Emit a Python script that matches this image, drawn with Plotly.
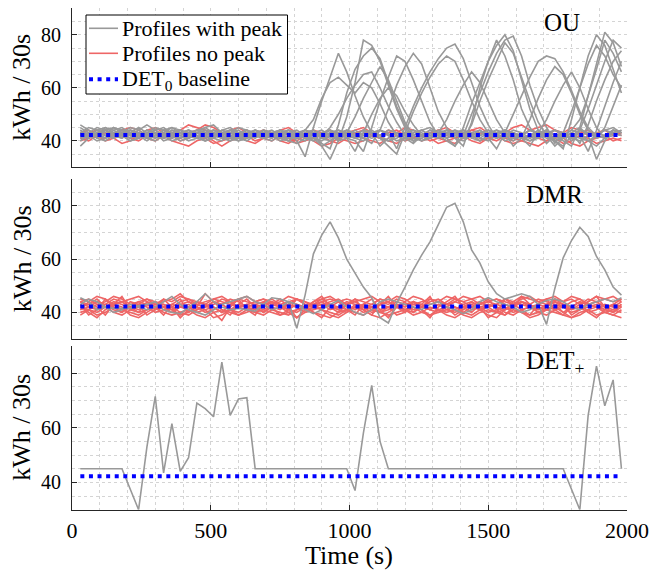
import plotly.graph_objects as go

W, H = 653, 573

# ---------------- data ----------------
time_s = list(range(30, 1981, 30))  # 66 sample times (s)
baseline_det0 = 42.2

# OU panel: profiles with peak (gray)
ou_peak_1 = [44,41,43,42,45,43,41,42,44,43,41, 42,44,43,41,40,42,43,44,42,41,43, 42,41,44,43,40,34,45,55,64,73,66, 57,49,43,38,41,43,42,44,43,41,42, 40,38,45,54,62,70,76,80,74,63,52, 44,39,42,43,41,44,43,42,44,43,42]
ou_peak_2 = [40,42,44,45,43,42,40,41,43,44,42, 43,41,42,44,45,43,42,40,41,43,44, 42,43,41,40,42,44,43,38,33,40,49, 62,78,76,70,61,52,45,40,42,44,43, 41,42,44,43,41,40,42,44,43,41,42, 43,44,42,40,38,45,57,70,81,77,68]
ou_peak_3 = [45,43,42,41,43,44,42,43,41,42,44, 42,40,41,43,44,42,41,43,45,44,42, 41,43,44,42,41,40,43,42,45,50,56, 61,65,66,60,53,47,42,40,41,43,42, 44,43,41,42,44,41,37,43,50,57,64, 70,72,71,66,59,51,45,42,41,43,44]
ou_peak_4 = [38,41,43,44,42,41,43,45,43,42,41, 44,43,42,41,43,44,43,41,42,43,41, 43,42,40,41,43,44,42,39,37,46,58, 67,72,75,71,62,53,46,41,40,42,44, 43,41,38,47,60,70,78,72,63,52,45, 41,42,44,43,42,41,40,42,44,45,43]
ou_peak_5 = [42,44,41,40,42,43,45,44,42,41,43, 41,43,44,42,40,41,44,43,42,44,42, 44,42,41,43,42,44,43,41,42,43,41, 40,36,45,55,64,72,70,63,55,47,42, 41,43,44,42,41,43,42,44,43,42,40, 41,43,40,37,48,60,72,80,76,67,58]
ou_peak_6 = [43,42,44,43,41,42,44,42,40,42,43, 45,44,42,41,42,43,41,40,42,44,43, 42,41,43,44,42,41,40,43,42,41,44, 43,41,39,44,52,61,68,73,69,60,51, 45,41,40,42,43,44,42,41,43,42,44, 43,42,40,41,43,39,46,55,63,70,74]
ou_peak_7 = [41,43,42,45,44,42,41,43,42,44,45, 43,42,40,41,42,44,43,42,41,40,42, 44,43,42,41,42,43,44,42,41,43,42, 41,40,42,44,43,37,45,53,60,66,71, 75,76.5,71,62,53,46,41,42,43,41,42, 44,42,41,43,40,44,52,61,70,78,75]
ou_peak_8 = [44,42,40,41,43,44,42,41,43,45,44, 42,41,43,44,42,41,40,43,44,42,41, 43,44,42,40,39,41,43,42,44,43,41, 42,44,43,41,40,42,43,44,42,41,43, 41,38,42,50,58,66,73,78,79.5,72,61, 52,45,40,38,42,44,43,41,42,44,43]
ou_peak_9 = [43,45,44,42,41,43,42,44,46,44,42, 41,42,44,43,42,41,43,42,40,41,43, 42,41,43,44,43,42,41,40,42,44,43, 41,42,43,44,42,40,41,43,44,42,41, 43,44,41,46,55,63,70,77,73,64,55, 47,42,38,41,43,42,36,44,53,62,70]
ou_peak_10 = [42,41,43,44,42,44,43,41,42,43,40, 41,43,42,44,43,42,41,42,43,44,42, 41,40,42,43,41,43,44,42,43,41,42, 44,42,41,42,44,43,42,40,41,43,42, 44,43,41,42,40,42,44,43,38,41,48, 56,63,68,65,58,50,44,41,45,53,61]
ou_peak_11 = [41,42,43,41,44,45,43,42,41,42,44, 43,42,41,42,40,41,43,44,43,42,43, 42,43,44,42,41,42,43,41,40,42,43, 42,44,43,41,38,35,43,51,58,64,69, 72,70,63,55,48,43,41,42,44,43,41, 42,43,44,42,41,40,42,43,42,44,43]
ou_peak_12 = [46,44,42,41,43,42,44,43,41,40,42, 44,43,42,41,43,44,42,41,43,42,44, 43,42,41,40,42,44,48,56,62,64,61, 58,62,60,54,47,42,40,43,44,42,41, 43,42,41,43,44,42,41,43,42,41,40, 42,44,39,43,51,60,69,76,72,65,60]
ou_peak_13 = [42,43,41,44,43,42,40,41,43,42,44, 45,43,42,41,44,43,42,41,40,42,43, 41,42,44,43,42,41,43,44,42,40,41, 36,43,50,56,60,57,51,46,42,41,43, 44,42,41,43,42,44,43,40,41,42,44, 43,42,41,42,44,43,40,38,41,43,42]
ou_peak_14 = [40,42,43,42,41,43,44,43,42,41,42, 43,44,42,43,41,42,44,45,43,41,42, 44,43,42,41,43,42,40,41,43,44,42, 41,43,44,42,40,41,43,42,44,45,43, 48,55,61,66,62,55,48,43,41,42,44, 43,41,40,42,44,48,57,67,78,73,66]
ou_peak_15 = [43,41,42,44,45,44,42,41,42,43,41, 42,43,44,42,41,43,42,44,43,41,42, 41,43,42,44,43,42,41,38,40,43,44, 42,41,43,44,42,43,41,39,42,44,43, 42,43,44,41,40,42,43,44,42,41,38, 43,44,42,41,43,45,42,33,40,44,43]
ou_peak_16 = [42,43,45,44,42,41,43,42,44,43,42, 40,41,42,43,45,46,43,42,41,42,44, 43,42,41,43,44,42,41,43,44,40,43, 49,56,62,68,63,55,47,42,40,41,43, 42,44,43,41,42,43,44,42,40,42,41, 43,48,55,61,66,60,52,45,41,42,44]

# OU panel: profiles without peak (red)
ou_flat_1 = [43,44,42,41,42,44,43,42,44,45,43, 42,41,43,44,46,45,43,42,41,42,43, 44,43,42,41,40,42,44,43,42,41,42, 43,44,42,41,43,44,42,41,42,43,44, 42,41,43,44,45,43,42,41,40,42,44, 45,46,44,42,41,43,44,42,41,43,42]
ou_flat_2 = [41,40,42,43,41,39,40,42,41,40,42, 40,39,38,40,41,39,40,41,42,40,39, 41,42,40,39,41,42,40,38,39,41,40, 39,40,42,41,40,39,41,42,40,41,39, 40,41,42,40,39,41,40,42,41,40,39, 38,40,41,39,40,42,41,39,40,41,40]
ou_flat_3 = [42,43,44,43,42,44,45,44,42,43,42, 43,44,46,45,44,43,42,44,45,43,42, 43,42,44,45,43,42,41,43,44,42,43, 44,45,43,42,44,43,45,44,42,43,44, 45,43,42,44,43,42,41,43,45,46,44, 43,42,44,43,45,44,42,43,44,42,43]
ou_flat_4 = [40,41,42,40,41,42,41,40,42,43,41, 42,40,41,43,42,40,38,40,41,42,40, 41,40,42,41,39,40,41,42,40,39,41, 42,41,40,39,41,42,40,41,42,40,41, 40,39,41,42,40,41,42,40,39,40,42, 41,40,42,41,39,38,40,41,42,40,41]

# DMR panel: profiles with peak (gray)
dmr_peak_1 = [45.5,44,41,42,41.5,41.5,41.5,42.5,43,44, 41,40,39.5,42,44,47,44,42,41,41.5, 41,40.5,43,45.5,45,44,34,46.5,62,69, 74,68,60,54.5,49.5,45.5,38,36,43.5,49.5, 56,61.5,66.5,73,79.5,81,74,63.5,58.5,51.5, 47,45,46,47,46,43,35.5,49,60.5,67, 72,68.5,61,56,49.5,46.5]
dmr_peak_2 = [43,45,44,42,40,41,43,42,41,42, 44,46,43,41,40,39,41,43,44,45, 46,44,43,41,42,44,43,41,39.5,41, 43,44.5,42,40,39,41,44,45,44,43, 42,41,43,44,42,41,39.5,41,44,45.5, 44,43,42,40,41,43,44.5,45,44,42, 41,43,44,45,44,45.5]

# DMR panel: profiles without peak (red)
dmr_flat_1 = [44,42,41,43,45,44,42,41,43,44,42, 41,43,44,42,40,41,43,45,44,42,41, 43,44,42,41,43,42,44,45,43,42,41, 42,43,41,40,42,44,43,41,42,44,45, 43,42,41,43,44,42,40,41,43,44,42, 41,43,44,42,41,43,45,44,42,41,43]
dmr_flat_2 = [40,41,39,40,42,41,40,39,41,42,40, 39,40,41,39,38,40,41,40,39,41,40, 41,40,39,40,41,42,40,39,38,40,41, 40,39,41,40,39,40,41,42,40,39,41, 40,41,39,38,40,41,40,39,41,40,39, 40,41,40,39,38,40,41,39,40,41,40]
dmr_flat_3 = [45,44,46,45,43,44,45,46,44,43,45, 44,46,45,44,43,45,46,44,45,46,44, 45,43,44,46,45,44,43,45,46,44,45, 44,45,46,44,43,45,44,46,45,43,44, 46,45,44,45,46,44,43,45,44,46,45, 44,45,46,44,45,43,44,46,45,44,45]
dmr_flat_4 = [42,43,41,42,44,43,41,42,43,41,42, 43,42,41,43,42,44,43,41,42,43,42, 41,43,42,44,43,41,42,43,41,42,44, 43,41,42,43,44,42,41,43,42,41,43, 42,44,43,41,42,43,42,41,44,43,42, 43,42,41,43,42,44,43,42,41,43,42]
dmr_flat_5 = [39,41,43,42,40,39,41,43,42,40,41, 42,40,39,41,43,42,40,41,39,40,42, 43,41,40,39,41,42,43,41,40,39,41, 42,40,41,43,42,39,40,42,41,39,40, 41,42,40,39,41,43,42,40,39,41,42, 40,39,41,42,40,41,43,42,40,39,41]
dmr_flat_6 = [44,45,43,44,46,45,43,44,45,43,44, 45,47,44,43,44,45,44,43,45,44,43, 44,45,43,44,45,43,42,44,45,44,43, 45,44,43,45,44,46,45,43,44,45,44, 43,44,46,45,43,44,45,44,43,45,46, 44,43,45,44,46,45,43,44,45,46,44]
dmr_flat_7 = [41,42,44,43,41,40,42,44,43,41,42, 40,42,43,41,42,44,43,41,40,42,43, 42,44,43,41,40,42,43,44,42,41,43, 41,43,42,40,41,43,42,44,43,41,40, 42,41,43,44,42,40,41,43,42,44,43, 41,42,44,43,41,42,40,41,43,42,44]
dmr_flat_8 = [43,40,38,41,43,42,39,38,40,42,43, 41,39,40,42,41,38,39,41,43,42,40, 39,41,42,40,38,40,42,41,39,38,40, 42,41,39,38,40,42,41,39,40,42,41, 39,38,40,42,41,39,38,41,42,40,38, 39,41,42,40,38,39,41,42,40,39,38]
dmr_flat_9 = [44,43,45,42,43,44,42,43,45,44,43, 42,44,45,43,42,43,45,44,42,43,44, 45,44,42,43,45,44,42,43,44,45,43, 44,42,43,45,44,42,43,44,42,45,44, 43,45,44,42,43,44,45,43,42,44,43, 45,44,43,42,44,45,43,44,42,43,45]
dmr_flat_10 = [42,41,40,42,43,41,42,40,41,43,42, 41,43,42,40,41,42,40,43,42,41,42, 40,42,41,43,42,40,41,42,43,41,40, 43,42,40,41,42,43,41,40,42,41,43, 41,40,42,43,41,42,43,42,40,41,42, 42,41,43,40,42,41,42,43,41,40,42]
dmr_flat_11 = [41,44,42,39,43,46,41,40,44,42,39, 43,45,40,42,47,44,41,39,43,45,42, 40,43,45,42,38,41,44,46,42,40,43, 45,41,39,43,46,42,40,44,41,38,42, 44,46,42,40,43,45,41,39,42,46,43, 40,42,45,43,39,41,44,46,42,40,43]
dmr_flat_12 = [43,39,41,45,42,40,44,43,39,41,45, 42,38,41,44,43,40,37,42,45,41,39, 44,42,39,41,45,43,40,38,42,44,41, 39,43,45,41,38,42,44,40,43,46,41, 42,39,41,44,42,38,40,45,43,41,39, 43,45,41,39,42,44,40,38,41,43,42]

# DET+ panel: single profile
det_plus_profile = [45,45,45,45,45,45,37.5,30,53,71.5, 43.5,61.5,44,49,69,67,64,84,64.5,70.5, 71,45,45,45,45,45,45,45,45,45, 45,45,45,37,58,75.5,55,45,45,45, 45,45,45,45,45,45,45,45,45,45, 45,45,45,45,45,45,45,45,45,37.5, 30,64.5,82.5,68,77.5,45]

ou_peak_series = [ou_peak_1, ou_peak_2, ou_peak_3, ou_peak_4, ou_peak_5, ou_peak_6, ou_peak_7, ou_peak_8,
                  ou_peak_9, ou_peak_10, ou_peak_11, ou_peak_12, ou_peak_13, ou_peak_14, ou_peak_15, ou_peak_16]
ou_flat_series = [ou_flat_1, ou_flat_2, ou_flat_3, ou_flat_4]
dmr_peak_series = [dmr_peak_1, dmr_peak_2]
dmr_flat_series = [dmr_flat_1, dmr_flat_2, dmr_flat_3, dmr_flat_4, dmr_flat_5, dmr_flat_6,
                   dmr_flat_7, dmr_flat_8, dmr_flat_9, dmr_flat_10, dmr_flat_11, dmr_flat_12]
det_plus_series = [det_plus_profile]

panel_titles = ["OU", "DMR", "DET<sub>+</sub>"]
legend_labels = ["Profiles with peak", "Profiles no peak", "DET<sub>0</sub> baseline"]
x_ticks = [0, 500, 1000, 1500, 2000]
y_ticks = [40, 60, 80]

# ---------------- style ----------------
FONT = "'Liberation Serif', 'Times New Roman', Times, serif"
GRAY = "rgb(153,153,153)"
RED = "rgb(238,102,102)"
BLUE = "rgb(0,0,255)"
AX = "rgb(38,38,38)"
GRID = "rgb(212,212,212)"
BLUE_DASH = "4px,4.6px"
LW = 1.6

def py2paper(py):
    return 1 - py / H

def px2paper(px):
    return px / W

x_dom = [72 / W, 627 / W]
panels_px = [(8.3, 167.3), (179.3, 339.0), (345.7, 509.7)]

fig = go.Figure()

panel_data = [
    (ou_flat_series, ou_peak_series),
    (dmr_flat_series, dmr_peak_series),
    ([], det_plus_series),
]

for p, (flats, peaks) in enumerate(panel_data):
    xa = "x" if p == 0 else f"x{p+1}"
    ya = "y" if p == 0 else f"y{p+1}"
    for s in flats:
        fig.add_trace(go.Scatter(x=time_s, y=s, mode="lines", xaxis=xa, yaxis=ya,
                                 line=dict(color=RED, width=LW), name="Profiles no peak",
                                 showlegend=False))
    for s in peaks:
        fig.add_trace(go.Scatter(x=time_s, y=s, mode="lines", xaxis=xa, yaxis=ya,
                                 line=dict(color=GRAY, width=LW), name="Profiles with peak",
                                 showlegend=False))
    fig.add_trace(go.Scatter(x=[time_s[0], time_s[-1]], y=[baseline_det0, baseline_det0],
                             mode="lines", xaxis=xa, yaxis=ya,
                             line=dict(color=BLUE, width=4, dash=BLUE_DASH),
                             name="DET0 baseline", showlegend=False))

layout = dict(
    width=W, height=H,
    margin=dict(l=0, r=0, t=0, b=0, autoexpand=False),
    paper_bgcolor="white", plot_bgcolor="white",
    font=dict(family=FONT, size=20, color="black"),
    annotations=[], shapes=[],
    showlegend=False,
)

for p in range(3):
    top, bot = panels_px[p]
    xkey = "xaxis" if p == 0 else f"xaxis{p+1}"
    ykey = "yaxis" if p == 0 else f"yaxis{p+1}"
    xa_anchor = "y" if p == 0 else f"y{p+1}"
    ya_anchor = "x" if p == 0 else f"x{p+1}"
    layout[xkey] = dict(
        domain=x_dom, anchor=xa_anchor, range=[0, 2000], automargin=False,
        tickmode="array", tickvals=x_ticks, showticklabels=(p == 2),
        ticks="inside", ticklen=5, tickcolor=AX, tickwidth=1,
        showline=True, linecolor=AX, linewidth=1, mirror=False,
        showgrid=True, gridcolor=GRID, griddash="dot", gridwidth=1, zeroline=False,
        minor=dict(tickmode="linear", tick0=0, dtick=100, showgrid=True,
                   gridcolor=GRID, griddash="dot", gridwidth=1, ticklen=0),
        tickfont=dict(family=FONT, size=22), ticklabelstandoff=1,
    )
    layout[ykey] = dict(
        domain=[py2paper(bot), py2paper(top)], anchor=ya_anchor, range=[30, 90], automargin=False,
        tickmode="array", tickvals=y_ticks,
        ticks="inside", ticklen=5, tickcolor=AX, tickwidth=1,
        showline=True, linecolor=AX, linewidth=1, mirror=False,
        showgrid=True, gridcolor=GRID, griddash="dot", gridwidth=1, zeroline=False,
        minor=dict(tickmode="linear", tick0=0, dtick=5, showgrid=True,
                   gridcolor=GRID, griddash="dot", gridwidth=1, ticklen=0),
        tickfont=dict(family=FONT, size=20), ticklabelstandoff=6,
    )
    layout["annotations"].append(dict(
        text="kWh / 30s", xref="paper", yref="paper",
        x=22 / W, y=py2paper((top + bot) / 2), xanchor="center", yanchor="middle",
        textangle=-90, showarrow=False, font=dict(family=FONT, size=26)))

title_pos = [(541.7, 23.0), (524.0, 194.0), (524.0, 363.0)]
for p, (tx, ty) in enumerate(title_pos):
    layout["annotations"].append(dict(
        text=panel_titles[p], xref="paper", yref="paper",
        x=tx / W, y=py2paper(ty), xanchor="left", yanchor="middle",
        showarrow=False, font=dict(family=FONT, size=25)))

layout["annotations"].append(dict(
    text="Time (s)", xref="paper", yref="paper",
    x=349.5 / W, y=py2paper(555), xanchor="center", yanchor="middle",
    showarrow=False, font=dict(family=FONT, size=26)))

# ---- legend box (drawn manually to match the reference's compact layout) ----
layout["shapes"].append(dict(
    type="rect", xref="paper", yref="paper",
    x0=px2paper(86), x1=px2paper(287.5), y0=py2paper(94), y1=py2paper(15),
    fillcolor="white", line=dict(color="black", width=1), layer="above"))
legend_rows = [(28.3, GRAY, LW, "solid"), (53.3, RED, LW, "solid"), (79.3, BLUE, 4, BLUE_DASH)]
for (ry, col, lw, dash), lab in zip(legend_rows, legend_labels):
    layout["shapes"].append(dict(
        type="line", xref="paper", yref="paper",
        x0=px2paper(89), x1=px2paper(118), y0=py2paper(ry), y1=py2paper(ry),
        line=dict(color=col, width=lw, dash=dash), layer="above"))
    layout["annotations"].append(dict(
        text=lab, xref="paper", yref="paper",
        x=px2paper(120), y=py2paper(ry + 0.5), xanchor="left", yanchor="middle",
        showarrow=False, font=dict(family=FONT, size=22)))

fig.update_layout(**layout)
fig.write_html("out.html", config={"displayModeBar": False},
               post_script="document.body.style.margin='0px';document.body.style.overflow='hidden';")
